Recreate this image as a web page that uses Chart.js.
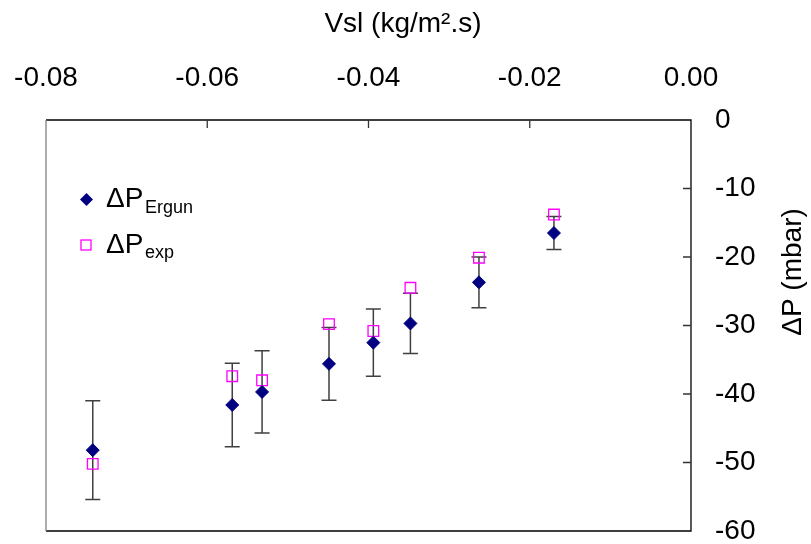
<!DOCTYPE html>
<html>
<head>
<meta charset="utf-8">
<script src="https://cdn.jsdelivr.net/npm/chart.js@4"></script>
<style>
  body { margin: 0; background: #fff; }
  #wrap { width: 811px; height: 544px; position: relative; }
</style>
</head>
<body>
<div id="wrap"><canvas id="chart"></canvas></div>
<script>
// Vsl (kg/m².s)
const vslValues = [-0.0742, -0.0569, -0.0532, -0.0449, -0.0394, -0.0348, -0.0263, -0.0170];
// ΔP Ergun (mbar) and its error bar half width
const ergunValues = [-48.2, -41.6, -39.7, -35.6, -32.5, -29.7, -23.7, -16.5];
const ergunErrors = [7.2, 6.1, 6.0, 5.3, 4.9, 4.4, 3.7, 2.4];
// ΔP measured (mbar)
const expValues = [-50.2, -37.4, -38.0, -29.8, -30.8, -24.5, -20.1, -13.8];

const FONT = "'Liberation Sans', Arial, sans-serif";

function points(ys) {
  return vslValues.map(function (x, i) {
    return { x: x, y: ys[i] };
  });
}

const errorBars = {
  id: "errorBars",
  beforeDatasetsDraw(chart) {
    const ctx = chart.ctx;
    const xs = chart.scales.x;
    const ys = chart.scales.y;
    ctx.save();
    ctx.strokeStyle = "#404040";
    ctx.lineWidth = 1.5;
    vslValues.forEach(function (v, i) {
      const px = xs.getPixelForValue(v);
      const top = ys.getPixelForValue(ergunValues[i] + ergunErrors[i]);
      const bot = ys.getPixelForValue(ergunValues[i] - ergunErrors[i]);
      ctx.beginPath();
      ctx.moveTo(px, top);
      ctx.lineTo(px, bot);
      ctx.moveTo(px - 7.5, top);
      ctx.lineTo(px + 7.5, top);
      ctx.moveTo(px - 7.5, bot);
      ctx.lineTo(px + 7.5, bot);
      ctx.stroke();
    });
    ctx.restore();
  }
};

const frame = {
  id: "frame",
  afterDraw(chart) {
    const ctx = chart.ctx;
    const a = chart.chartArea;
    const xs = chart.scales.x;
    const ys = chart.scales.y;
    ctx.save();

    // plot box
    ctx.lineWidth = 1.3;
    ctx.strokeStyle = "#000";
    ctx.beginPath();
    ctx.moveTo(a.left, a.top);
    ctx.lineTo(a.right, a.top);
    ctx.lineTo(a.right, a.bottom);
    ctx.lineTo(a.left, a.bottom);
    ctx.stroke();
    ctx.strokeStyle = "#808080";
    ctx.beginPath();
    ctx.moveTo(a.left, a.top);
    ctx.lineTo(a.left, a.bottom);
    ctx.stroke();

    // inward tick marks
    ctx.strokeStyle = "#333";
    ctx.beginPath();
    xs.ticks.forEach(function (t) {
      if (t.value <= xs.min || t.value >= xs.max) return;
      const px = xs.getPixelForValue(t.value);
      ctx.moveTo(px, a.top);
      ctx.lineTo(px, a.top + 8);
    });
    ys.ticks.forEach(function (t) {
      if (t.value <= ys.min || t.value >= ys.max) return;
      const py = ys.getPixelForValue(t.value);
      ctx.moveTo(a.right, py);
      ctx.lineTo(a.right - 8, py);
    });
    ctx.stroke();

    // axis titles
    ctx.fillStyle = "#000";
    ctx.font = "28px " + FONT;
    ctx.textAlign = "center";
    ctx.textBaseline = "middle";
    ctx.fillText("Vsl (kg/m².s)", 403, 24);
    ctx.translate(793, 272);
    ctx.rotate(-Math.PI / 2);
    ctx.fillText("ΔP (mbar)", 0, 0);
    ctx.setTransform(1, 0, 0, 1, 0, 0);

    // legend
    ctx.fillStyle = "#000080";
    ctx.beginPath();
    ctx.moveTo(86.5, 193);
    ctx.lineTo(93, 199.5);
    ctx.lineTo(86.5, 206);
    ctx.lineTo(80, 199.5);
    ctx.closePath();
    ctx.fill();
    ctx.strokeStyle = "#ff00ff";
    ctx.lineWidth = 1.3;
    ctx.strokeRect(81, 240, 10, 10);

    ctx.fillStyle = "#000";
    ctx.textAlign = "left";
    ctx.textBaseline = "alphabetic";
    ctx.font = "28px " + FONT;
    ctx.fillText("ΔP", 106, 207);
    ctx.fillText("ΔP", 106, 253);
    ctx.font = "18px " + FONT;
    ctx.fillText("Ergun", 145, 213);
    ctx.fillText("exp", 145, 258);

    ctx.restore();
  }
};

new Chart(document.getElementById("chart"), {
  type: "scatter",
  data: {
    datasets: [
      {
        label: "ΔP Ergun",
        data: points(ergunValues),
        pointStyle: "rectRot",
        pointRadius: 6.5,
        backgroundColor: "#000080",
        borderColor: "#000080",
        borderWidth: 1
      },
      {
        label: "ΔP exp",
        data: points(expValues),
        pointStyle: "rect",
        pointRadius: 7.5,
        backgroundColor: "rgba(0,0,0,0)",
        borderColor: "#ff00ff",
        borderWidth: 1.3
      }
    ]
  },
  options: {
    responsive: true,
    maintainAspectRatio: false,
    animation: false,
    layout: {
      padding: { left: 46, bottom: 13, top: 0, right: 0 }
    },
    plugins: {
      legend: { display: false },
      tooltip: { enabled: false }
    },
    scales: {
      x: {
        type: "linear",
        position: "top",
        min: -0.08,
        max: 0,
        grid: { display: false, drawTicks: false },
        border: { display: false },
        ticks: {
          stepSize: 0.02,
          padding: 25,
          color: "#000",
          font: { family: FONT, size: 28 },
          callback: function (v) {
            return Math.abs(v) < 1e-9 ? "0.00" : v.toFixed(2);
          }
        },
        afterFit: function (scale) {
          scale.height = 120;
          scale.paddingLeft = 0;
          scale.paddingRight = 0;
        }
      },
      y: {
        type: "linear",
        position: "right",
        min: -60,
        max: 0,
        grid: { display: false, drawTicks: false },
        border: { display: false },
        ticks: {
          stepSize: 10,
          padding: 24,
          color: "#000",
          font: { family: FONT, size: 28 }
        },
        afterFit: function (scale) {
          scale.width = 120;
          scale.paddingTop = 0;
          scale.paddingBottom = 0;
        }
      }
    }
  },
  plugins: [errorBars, frame]
});
</script>
</body>
</html>
